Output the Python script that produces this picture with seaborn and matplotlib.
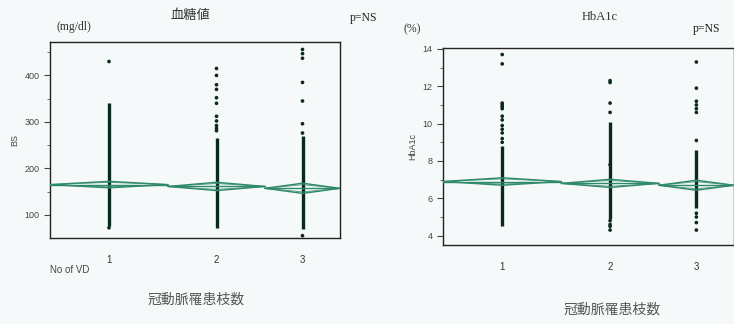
import numpy as np
import pandas as pd
import matplotlib
matplotlib.use("Agg")
import matplotlib.pyplot as plt
import seaborn as sns

sns.set_style("white")
plt.rcParams['font.family'] = ['Liberation Sans', 'Noto Sans CJK JP', 'DejaVu Sans']

# group sizes (relative widths of the JMP groups)
groups = ["1", "2", "3"]
n_per_group = [118, 97, 75]

# blood sugar (mg/dl)
bs_dense_lo = [75, 72, 70]
bs_dense_hi = [340, 265, 270]
bs_points = {
    "1": [430, 72],
    "2": [415, 400, 380, 370, 352, 340, 312, 302, 292, 286, 281],
    "3": [456, 447, 437, 385, 345, 296, 276, 55],
}
bs_mean = [165, 161, 157]
bs_ci = [7, 9, 11]

# HbA1c (%)
hb_dense_lo = [4.5, 4.9, 5.5]
hb_dense_hi = [8.8, 10.1, 8.6]
hb_points = {
    "1": [13.7, 13.2, 11.1, 11.0, 10.9, 10.8, 10.4, 10.2, 9.9, 9.7, 9.5, 9.2, 9.0],
    "2": [12.3, 12.2, 11.1, 10.6, 7.8, 4.8, 4.6, 4.5, 4.3],
    "3": [13.3, 11.9, 11.2, 11.0, 10.8, 10.6, 9.1, 5.2, 5.0, 4.7, 4.3],
}
hb_mean = [6.9, 6.8, 6.7]
hb_ci = [0.2, 0.22, 0.27]

edges = np.concatenate([[0], np.cumsum(n_per_group)])
centers = (edges[:-1] + edges[1:]) / 2

dot_col = "#0b2a1c"
dia_col = "#2f8a68"


def oneway(ax, dense_lo, dense_hi, points, means, cis, ylim, major, minor):
    ax.vlines(centers, dense_lo, dense_hi, color=dot_col, lw=2.4, zorder=3)
    rows = []
    for g, c in zip(groups, centers):
        for v in points[g]:
            rows.append({"x": c, "y": v})
    df = pd.DataFrame(rows)
    sns.scatterplot(data=df, x="x", y="y", ax=ax, color=dot_col, s=7,
                    edgecolor="none", zorder=4, legend=False)
    for i in range(3):
        l, r, c = edges[i], edges[i + 1], centers[i]
        m, h = means[i], cis[i]
        # means diamond
        ax.plot([l, c, r, c, l], [m, m + h, m, m - h, m], color=dia_col, lw=1.0, zorder=5)
        ax.plot([l, r], [m, m], color=dia_col, lw=1.0, zorder=5)
        # overlap marks
        o = h / np.sqrt(2)
        ax.plot([l, c, r, c, l], [m, m + o, m, m - o, m], color=dia_col, lw=0.7, alpha=0.8, zorder=5)
    ax.set_xlim(edges[0], edges[-1])
    ax.set_ylim(*ylim)
    ax.set_xticks(centers)
    ax.set_xticklabels(groups)
    ax.set_xticks(edges[1:-1], minor=True)
    ax.set_yticks(major)
    ax.set_yticks(minor, minor=True)
    ax.tick_params(axis="x", which="major", length=0, labelsize=7, pad=12, colors="#333333")
    ax.tick_params(axis="x", which="minor", length=3, direction="out", color="#555555")
    ax.tick_params(axis="y", which="major", length=4, labelsize=6.5, colors="#444444", left=True)
    ax.tick_params(axis="y", which="minor", length=2, left=True, color="#555555")
    for s in ax.spines.values():
        s.set_color("#222222")
        s.set_linewidth(1.0)
    ax.set_facecolor("none")
    ax.set_xlabel("")


fig = plt.figure(figsize=(7.34, 3.24), dpi=100)
fig.patch.set_facecolor("#f6f9fa")
W, H = 734, 324
ax1 = fig.add_axes([50 / W, 1 - 238 / H, 290 / W, 196 / H])
ax2 = fig.add_axes([443 / W, 1 - 245 / H, 291 / W, 197 / H])

oneway(ax1, bs_dense_lo, bs_dense_hi, bs_points, bs_mean, bs_ci,
       (50, 472), [100, 200, 300, 400], [150, 250, 350, 450])
oneway(ax2, hb_dense_lo, hb_dense_hi, hb_points, hb_mean, hb_ci,
       (3.5, 14.05), [4, 6, 8, 10, 12, 14], [5, 7, 9, 11, 13])

ax1.set_ylabel("BS", fontsize=6.5, color="#444444", labelpad=4)
ax2.set_ylabel("HbA1c", fontsize=6.5, color="#444444", labelpad=4)

serif = ["Liberation Serif", "DejaVu Serif"]
cjk = ["Noto Sans CJK JP", "DejaVu Sans"]
fig.text(57 / W, 1 - 27 / H, "(mg/dl)", fontsize=8.5, family=serif, color="#333333", va="center")
fig.text(190 / W, 1 - 15 / H, "血糖値", fontsize=9.5, family=cjk, color="#333333", ha="center", va="center")
fig.text(350 / W, 1 - 18 / H, "p=NS", fontsize=8.5, family=serif, color="#222222", va="center")
fig.text(50 / W, 1 - 270 / H, "No of VD", fontsize=7, color="#444444", va="center")
fig.text(196 / W, 1 - 300 / H, "冠動脈罹患枝数", fontsize=10, family=cjk, color="#555555", ha="center", va="center")

fig.text(404 / W, 1 - 29 / H, "(%)", fontsize=8.5, family=serif, color="#333333", va="center")
fig.text(600 / W, 1 - 17 / H, "HbA1c", fontsize=9, family=serif, color="#333333", ha="center", va="center")
fig.text(693 / W, 1 - 29 / H, "p=NS", fontsize=8.5, family=serif, color="#222222", va="center")
fig.text(612 / W, 1 - 310 / H, "冠動脈罹患枝数", fontsize=10, family=cjk, color="#555555", ha="center", va="center")

fig.savefig("out.png", dpi=100, facecolor=fig.get_facecolor())
